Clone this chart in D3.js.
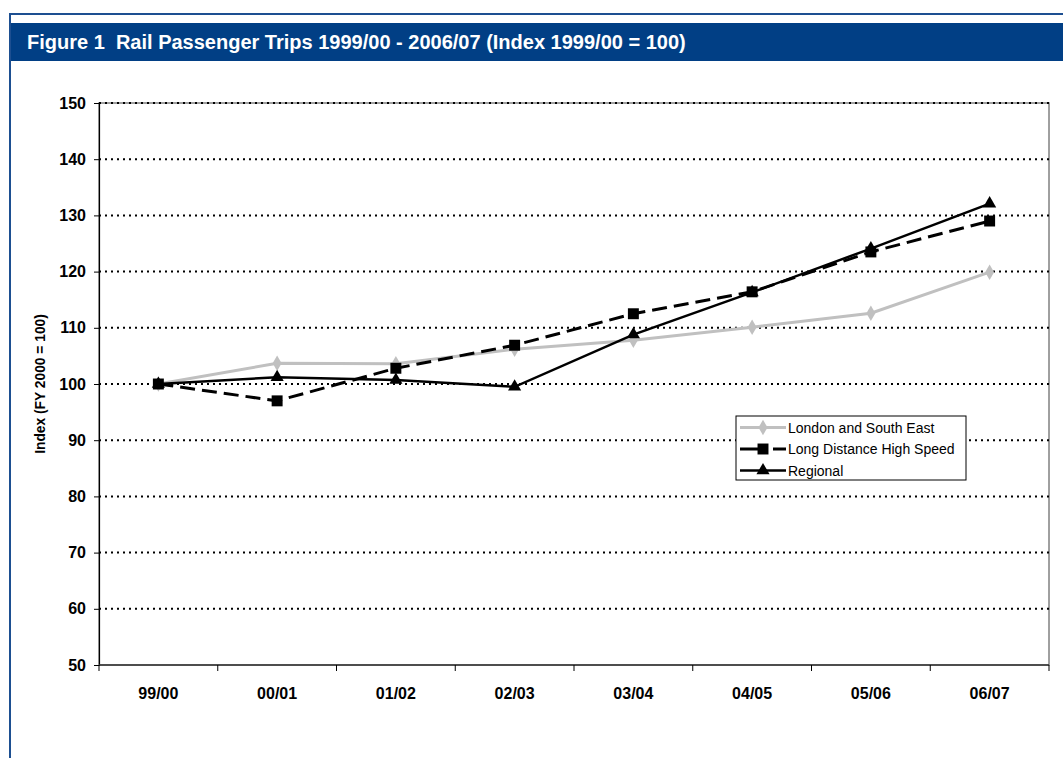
<!DOCTYPE html>
<html>
<head>
<meta charset="utf-8">
<script src="https://cdn.jsdelivr.net/npm/d3@7/dist/d3.min.js"></script>
<style>
    body { margin: 0; background: #fff; }
    text { font-family: "Liberation Sans", Arial, sans-serif; }
</style>
</head>
<body>
<script>
'use strict';

var categories = ['99/00', '00/01', '01/02', '02/03', '03/04', '04/05', '05/06', '06/07'];
var londonSouthEast = [100, 103.7, 103.6, 106.2, 107.8, 110.1, 112.6, 119.9];
var longDistance = [100, 97.0, 102.8, 106.9, 112.5, 116.4, 123.5, 129.0];
var regional = [100, 101.2, 100.7, 99.5, 108.8, 116.3, 124.1, 132.1];
var yTicks = [50, 60, 70, 80, 90, 100, 110, 120, 130, 140, 150];

var series = [
    { name: 'London and South East', values: londonSouthEast, color: '#c0c0c0', width: 3, dash: null, marker: 'diamond' },
    { name: 'Long Distance High Speed', values: longDistance, color: '#000', width: 3, dash: '15,7', marker: 'square' },
    { name: 'Regional', values: regional, color: '#000', width: 2.5, dash: null, marker: 'triangle' }
];

var width = 1063;
var height = 758;
var plot = { left: 99, right: 1049, top: 103, bottom: 665 };

var svg = d3.select('body').append('svg')
    .attr('width', width)
    .attr('height', height);

svg.append('rect').attr('width', width).attr('height', height).attr('fill', '#fff');

// frame and header band
svg.append('line')
    .attr('x1', 10).attr('x2', width).attr('y1', 14).attr('y2', 14)
    .attr('stroke', '#1d4f91').attr('stroke-width', 2);
svg.append('line')
    .attr('x1', 10).attr('x2', 10).attr('y1', 13).attr('y2', height)
    .attr('stroke', '#1d4f91').attr('stroke-width', 2);
svg.append('rect')
    .attr('x', 11).attr('y', 23).attr('width', width - 11).attr('height', 38)
    .attr('fill', '#013f85');
svg.append('text')
    .attr('x', 27).attr('y', 49)
    .attr('fill', '#fff')
    .attr('font-size', 20)
    .attr('font-weight', 'bold')
    .style('white-space', 'pre')
    .text('Figure 1  Rail Passenger Trips 1999/00 - 2006/07 (Index 1999/00 = 100)');

var x = d3.scaleBand()
    .domain(categories)
    .range([plot.left, plot.right]);

var y = d3.scaleLinear()
    .domain([50, 150])
    .range([plot.bottom, plot.top]);

// plot area border
svg.append('rect')
    .attr('x', plot.left).attr('y', plot.top)
    .attr('width', plot.right - plot.left).attr('height', plot.bottom - plot.top)
    .attr('fill', '#fff').attr('stroke', '#808080').attr('stroke-width', 1.5);

// gridlines
svg.append('g')
    .selectAll('line')
    .data(yTicks.filter(function(d) { return d > 50; }))
    .enter().append('line')
    .attr('x1', plot.left).attr('x2', plot.right)
    .attr('y1', function(d) { return y(d); })
    .attr('y2', function(d) { return y(d); })
    .attr('stroke', '#000')
    .attr('stroke-width', 2)
    .attr('stroke-dasharray', '2,4');

// y axis
var yAxis = svg.append('g')
    .attr('transform', 'translate(' + plot.left + ',0)')
    .call(d3.axisLeft(y).tickValues(yTicks).tickSize(5).tickPadding(8));
yAxis.select('.domain').attr('stroke', '#000').attr('stroke-width', 1.2);
yAxis.selectAll('.tick line').attr('stroke', '#000');
yAxis.selectAll('text')
    .attr('font-size', 16)
    .attr('font-weight', 'bold')
    .attr('font-family', '"Liberation Sans", Arial, sans-serif')
    .attr('fill', '#000');

// x axis with ticks at category boundaries
var boundaries = categories.map(function(c) { return x(c); }).concat([plot.right]);
svg.append('line')
    .attr('x1', plot.left).attr('x2', plot.right)
    .attr('y1', plot.bottom).attr('y2', plot.bottom)
    .attr('stroke', '#333').attr('stroke-width', 1.5);
svg.append('g')
    .selectAll('line')
    .data(boundaries)
    .enter().append('line')
    .attr('x1', function(d) { return d; }).attr('x2', function(d) { return d; })
    .attr('y1', plot.bottom).attr('y2', plot.bottom + 6)
    .attr('stroke', '#000');
svg.append('g')
    .selectAll('text')
    .data(categories)
    .enter().append('text')
    .attr('x', function(d) { return x(d) + x.bandwidth() / 2; })
    .attr('y', 699)
    .attr('text-anchor', 'middle')
    .attr('font-size', 16)
    .attr('font-weight', 'bold')
    .text(function(d) { return d; });

// y axis title
svg.append('text')
    .attr('transform', 'translate(45,384) rotate(-90)')
    .attr('text-anchor', 'middle')
    .attr('font-size', 13.8)
    .attr('font-weight', 'bold')
    .text('Index (FY 2000 = 100)');

var symbolTypes = { diamond: d3.symbolDiamond, square: d3.symbolSquare, triangle: d3.symbolTriangle };
var symbolSizes = { diamond: 70, square: 120, triangle: 75 };

function cx(i) { return x(categories[i]) + x.bandwidth() / 2; }

var line = d3.line()
    .x(function(d, i) { return cx(i); })
    .y(function(d) { return y(d); });

series.forEach(function(s) {
    svg.append('path')
        .datum(s.values)
        .attr('d', line)
        .attr('fill', 'none')
        .attr('stroke', s.color)
        .attr('stroke-width', s.width)
        .attr('stroke-dasharray', s.dash);
    svg.append('g')
        .selectAll('path')
        .data(s.values)
        .enter().append('path')
        .attr('d', d3.symbol().type(symbolTypes[s.marker]).size(symbolSizes[s.marker]))
        .attr('transform', function(d, i) { return 'translate(' + cx(i) + ',' + y(d) + ')'; })
        .attr('fill', s.color);
});

// legend
var legend = svg.append('g').attr('transform', 'translate(736,416)');
legend.append('rect')
    .attr('width', 230).attr('height', 64)
    .attr('fill', '#fff').attr('stroke', '#000').attr('stroke-width', 1);
series.forEach(function(s, i) {
    var ly = 11.5 + i * 21.5;
    legend.append('line')
        .attr('x1', 4).attr('x2', 50).attr('y1', ly).attr('y2', ly)
        .attr('stroke', s.color)
        .attr('stroke-width', s.width)
        .attr('stroke-dasharray', s.dash ? '21,12' : null);
    legend.append('path')
        .attr('d', d3.symbol().type(symbolTypes[s.marker]).size(symbolSizes[s.marker]))
        .attr('transform', 'translate(27,' + ly + ')')
        .attr('fill', s.color);
    legend.append('text')
        .attr('x', 52).attr('y', ly + 5)
        .attr('font-size', 14)
        .text(s.name);
});
</script>
</body>
</html>
